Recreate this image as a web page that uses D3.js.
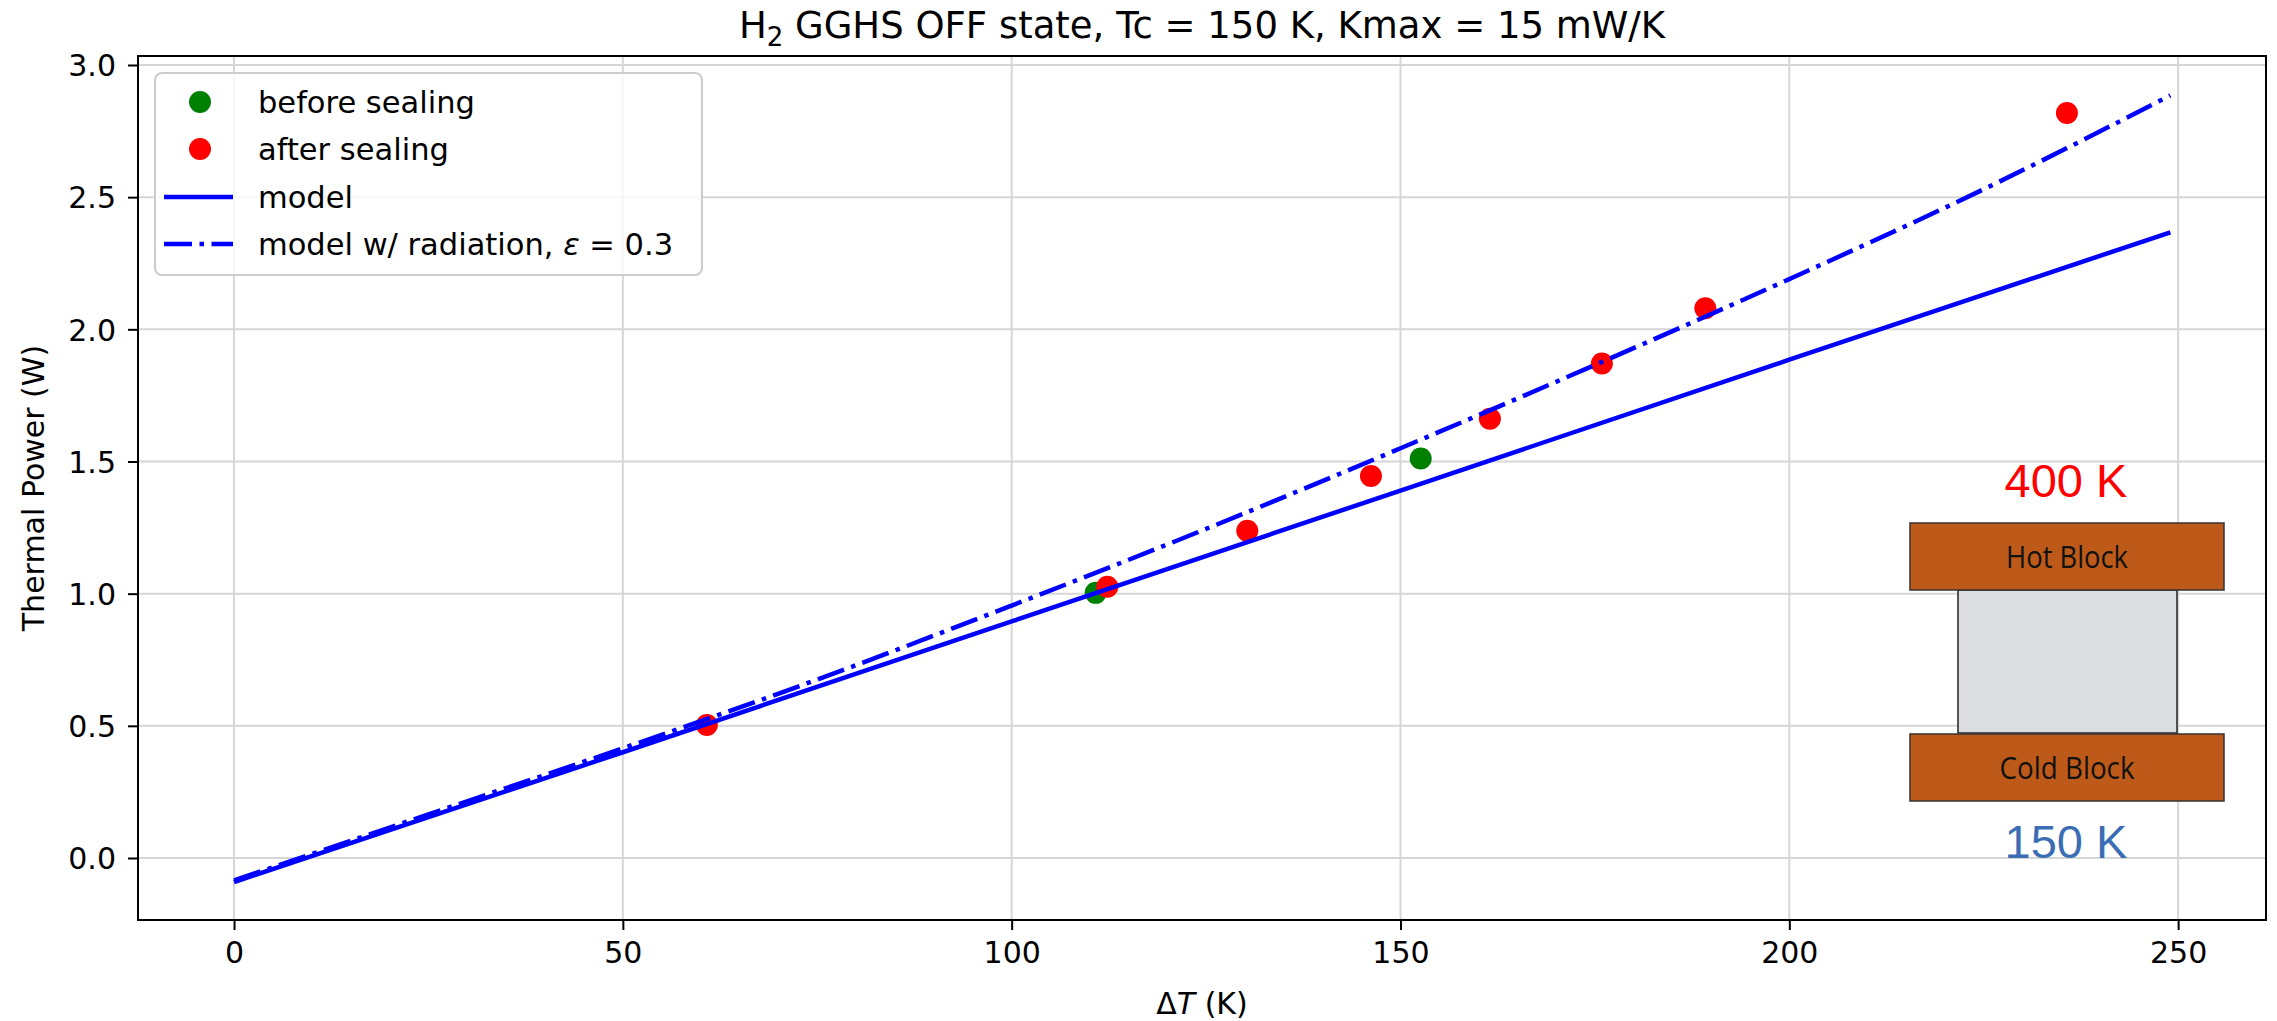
<!DOCTYPE html>
<html>
<head>
<meta charset="utf-8">
<script src="https://cdn.jsdelivr.net/npm/d3@7"></script>
<style>
  body { margin: 0; background: #fff; }
  svg text { font-family: "DejaVu Sans", sans-serif; }
</style>
</head>
<body>
<svg id="chart" width="2277" height="1021"></svg>
<script>
// measured points
const beforeX = [110.8, 152.6]
const beforeY = [1.003, 1.511]
const afterX = [60.8, 112.3, 130.3, 146.2, 161.5, 175.9, 189.2, 235.7]
const afterY = [0.503, 1.026, 1.238, 1.445, 1.662, 1.871, 2.08, 2.818]

// model curves
const modelX = [0, 50, 100, 150, 200, 249]
const modelY = [-0.091, 0.40, 0.895, 1.39, 1.885, 2.367]
const radX = [0, 25, 50, 75, 100, 125, 150, 175, 200, 225, 249]
const radY = [-0.085, 0.165, 0.415, 0.675, 0.955, 1.245, 1.55, 1.865, 2.19, 2.53, 2.885]

const xTicks = [0, 50, 100, 150, 200, 250]
const yTicks = [0.0, 0.5, 1.0, 1.5, 2.0, 2.5, 3.0]

const svg = d3.select("#chart")
const plotL = 138, plotR = 2266, plotT = 56, plotB = 920

let x = d3.scaleLinear().domain([-12.35, 261.3]).range([plotL, plotR])
let y = d3.scaleLinear().domain([-0.2346, 3.034]).range([plotB, plotT])

// grid
let grid = svg.append("g")
grid.selectAll("line.gx")
  .data(xTicks)
  .join("line")
  .attr("class", "gx")
  .attr("x1", d => x(d)).attr("x2", d => x(d))
  .attr("y1", plotT).attr("y2", plotB)
  .attr("stroke", "#d6d6d6").attr("stroke-width", 2)
grid.selectAll("line.gy")
  .data(yTicks)
  .join("line")
  .attr("class", "gy")
  .attr("x1", plotL).attr("x2", plotR)
  .attr("y1", d => y(d)).attr("y2", d => y(d))
  .attr("stroke", "#d6d6d6").attr("stroke-width", 2)

// points first, lines on top (as in matplotlib)
let dots = (xs, ys, colour) => svg.append("g")
  .selectAll("circle")
  .data(xs.map((v, i) => [v, ys[i]]))
  .join("circle")
  .attr("cx", d => x(d[0]))
  .attr("cy", d => y(d[1]))
  .attr("r", 11)
  .attr("fill", colour)
dots(beforeX, beforeY, "#008000")
dots(afterX, afterY, "#ff0000")

let line = d3.line().x(d => x(d[0])).y(d => y(d[1]))
svg.append("path")
  .datum(modelX.map((v, i) => [v, modelY[i]]))
  .attr("d", line)
  .attr("fill", "none")
  .attr("stroke", "#0000ff")
  .attr("stroke-width", 4.5)
svg.append("path")
  .datum(radX.map((v, i) => [v, radY[i]]))
  .attr("d", line.curve(d3.curveMonotoneX))
  .attr("fill", "none")
  .attr("stroke", "#0000ff")
  .attr("stroke-width", 4.5)
  .attr("stroke-dasharray", "28,7.5,4.5,7.5")

// axes
let xAxis = d3.axisBottom(x).tickValues(xTicks).tickSize(10).tickPadding(12)
  .tickFormat(d3.format("d"))
let yAxis = d3.axisLeft(y).tickValues(yTicks).tickSize(10).tickPadding(12)
  .tickFormat(d3.format(".1f"))
let style = g => {
  g.select(".domain").remove()
  g.selectAll(".tick line").attr("stroke", "#000").attr("stroke-width", 2)
  g.selectAll(".tick text")
    .attr("fill", "#000")
    .style("font-size", "30px")
    .style("font-family", "DejaVu Sans")
}
svg.append("g").attr("transform", `translate(0,${plotB})`).call(xAxis).call(style)
svg.append("g").attr("transform", `translate(${plotL},0)`).call(yAxis).call(style)
  .selectAll(".tick text").attr("dy", "0.36em")

svg.append("rect")
  .attr("x", plotL).attr("y", plotT)
  .attr("width", plotR - plotL).attr("height", plotB - plotT)
  .attr("fill", "none").attr("stroke", "#000").attr("stroke-width", 2)

// title and labels
let title = svg.append("text")
  .attr("x", (plotL + plotR) / 2).attr("y", 38)
  .attr("text-anchor", "middle")
  .style("font-size", "37px")
title.append("tspan").text("H")
title.append("tspan").text("2").attr("dy", 8).style("font-size", "26px")
title.append("tspan").text(" GGHS OFF state, Tc = 150 K, Kmax = 15 mW/K").attr("dy", -8)

let xl = svg.append("text")
  .attr("x", (plotL + plotR) / 2).attr("y", 1014)
  .attr("text-anchor", "middle")
  .style("font-size", "30px")
xl.append("tspan").text("Δ")
xl.append("tspan").text("T").style("font-style", "italic")
xl.append("tspan").text(" (K)")

svg.append("text")
  .attr("transform", `translate(44,${(plotT + plotB) / 2}) rotate(-90)`)
  .attr("text-anchor", "middle")
  .style("font-size", "30px")
  .text("Thermal Power (W)")

// legend
let lg = svg.append("g")
lg.append("rect")
  .attr("x", 155).attr("y", 73).attr("width", 547).attr("height", 202)
  .attr("rx", 7)
  .attr("fill", "#fff").attr("fill-opacity", 0.8)
  .attr("stroke", "#cccccc").attr("stroke-width", 2)
let rows = [102, 149, 197, 244]
lg.append("circle").attr("cx", 200).attr("cy", rows[0]).attr("r", 11).attr("fill", "#008000")
lg.append("circle").attr("cx", 200).attr("cy", rows[1]).attr("r", 11).attr("fill", "#ff0000")
lg.append("line").attr("x1", 164).attr("x2", 233).attr("y1", rows[2]).attr("y2", rows[2])
  .attr("stroke", "#0000ff").attr("stroke-width", 4.5)
lg.append("line").attr("x1", 164).attr("x2", 233).attr("y1", rows[3]).attr("y2", rows[3])
  .attr("stroke", "#0000ff").attr("stroke-width", 4.5)
  .attr("stroke-dasharray", "28,7.5,4.5,7.5")
let labels = ["before sealing", "after sealing", "model"]
labels.forEach((t, i) => lg.append("text")
  .attr("x", 258).attr("y", rows[i] + 11)
  .style("font-size", "30.5px").text(t))
let last = lg.append("text").attr("x", 258).attr("y", rows[3] + 11).style("font-size", "30.5px")
last.append("tspan").text("model w/ radiation, ")
last.append("tspan").text("ε").style("font-style", "italic")
last.append("tspan").text(" = 0.3")

// inset sketch of the blocks
let inset = svg.append("g")
inset.append("rect").attr("x", 1958).attr("y", 590).attr("width", 219).attr("height", 143)
  .attr("fill", "#dcdde0").attr("stroke", "#222").attr("stroke-width", 1.5)
let block = (yTop, label, len) => {
  inset.append("rect").attr("x", 1910).attr("y", yTop).attr("width", 314).attr("height", 67)
    .attr("fill", "#bd5a1a").attr("stroke", "#333").attr("stroke-width", 1.5)
  inset.append("text")
    .attr("x", 2067).attr("y", yTop + 45)
    .attr("text-anchor", "middle")
    .attr("textLength", len).attr("lengthAdjust", "spacingAndGlyphs")
    .style("font-family", "Open Sans").style("font-size", "31px")
    .attr("fill", "#111").text(label)
}
block(523, "Hot Block", 122)
block(734, "Cold Block", 135)
inset.append("text")
  .attr("x", 2066).attr("y", 497).attr("text-anchor", "middle")
  .style("font-family", "Liberation Sans").style("font-size", "47px")
  .attr("fill", "#ff0000").text("400 K")
inset.append("text")
  .attr("x", 2066).attr("y", 858).attr("text-anchor", "middle")
  .style("font-family", "Liberation Sans").style("font-size", "47px")
  .attr("fill", "#3a6db4").text("150 K")
</script>
</body>
</html>
